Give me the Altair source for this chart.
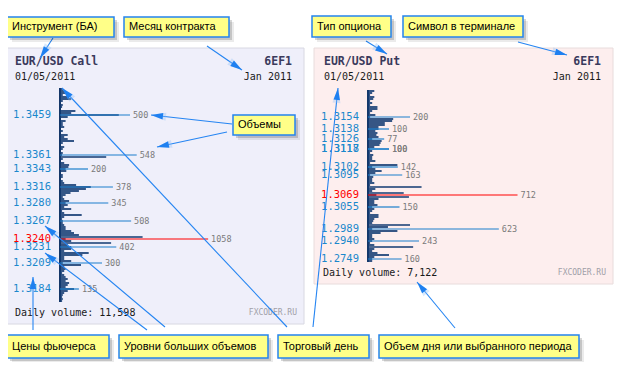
import math
import altair as alt
import pandas as pd

# ---------------- data ----------------
left_rows_vol = [20, 30, 40, 20, 60, 80, 20, 0, 20, 15,
                 0, 110, 80, 420, 55, 0, 40, 20, 20, 30,
                 0, 20, 0, 55, 30, 55, 100, 20, 0, 30,
                 20, 0, 20, 15, 330, 20, 0, 30, 65, 60,
                 40, 45, 0, 20, 20, 0, 20, 30, 115, 220,
                 185, 135, 75, 40, 20, 30, 65, 40, 55, 30,
                 80, 15, 30, 155, 30, 15, 20, 20, 30, 40,
                 40, 80, 100, 135, 590, 40, 80, 365, 55, 80,
                 80, 30, 205, 160, 30, 30, 80, 20, 150, 30,
                 40, 30, 15, 30, 40, 55, 40, 65, 55, 40,
                 100, 55, 30, 20, 15, 20, 15]
left_level_price = ["1.3459", "1.3361", "1.3343", "1.3316", "1.3280", "1.3267",
                    "1.3240", "1.3231", "1.3209", "1.3184"]
left_level_vol = [500, 548, 200, 378, 345, 508, 1058, 402, 300, 135]
left_level_row = [13, 33, 40, 49, 57, 66, 75, 79, 87, 100]
left_hot = "1.3240"

right_rows_vol = [30, 20, 10, 30, 25, 10, 20, 10, 45, 45,
                  20, 10, 35, 10, 120, 115, 80, 80, 50, 50,
                  35, 45, 40, 50, 20, 65, 60, 55, 30, 10,
                  20, 10, 25, 20, 20, 35, 10, 140, 20, 35,
                  65, 35, 10, 25, 20, 20, 30, 10, 255, 35,
                  20, 170, 40, 195, 50, 30, 30, 45, 20, 30,
                  20, 10, 50, 50, 30, 25, 20, 200, 95, 20,
                  140, 60, 20, 20, 30, 20, 10, 30, 215, 30,
                  20, 45, 100, 30, 20, 20]
right_level_price = ["1.3154", "1.3138", "1.3126", "1.3118", "1.3117", "1.3102",
                     "1.3095", "1.3069", "1.3055", "1.2989", "1.2940", "1.2749"]
right_level_vol = [200, 100, 77, 100, 100, 142, 163, 712, 150, 623, 243, 160]
right_level_row = [13, 19, 24, 29, 29, 38, 42, 52, 58, 69, 75, 84]
right_hot = "1.3069"

panel_titles = ["EUR/USD Call", "EUR/USD Put"]
panel_symbol = ["6EF1", "6EF1"]
panel_date = ["01/05/2011", "01/05/2011"]
panel_month = ["Jan 2011", "Jan 2011"]
panel_daily = ["Daily volume: 11,598", "Daily volume: 7,122"]

box_texts = ["Инструмент (БА)", "Месяц контракта", "Тип опциона", "Символ в терминале",
             "Объемы", "Цены фьючерса", "Уровни больших объемов", "Торговый день",
             "Объем дня или выбранного периода"]

# ---------------- layout (pixels) ----------------
W, H = 624, 354
X0, Y0 = 8, 8
PX = alt.Scale(domain=[X0, X0 + W], nice=False, zero=False)
PY = alt.Scale(domain=[Y0 + H, Y0], nice=False, zero=False)
MONO = "DejaVu Sans Mono"
SANS = "Liberation Sans"


def hx(axis_px, k):
    return alt.Scale(domain=[(X0 - axis_px) / k, (X0 + W - axis_px) / k], nice=False, zero=False)


def hy(c0, pitch=2.0):
    return alt.Scale(domain=[(Y0 + H - c0) / pitch, (Y0 - c0) / pitch], nice=False, zero=False)


layers = []

# panel backgrounds
panels = pd.DataFrame({
    "x1": [6, 314], "x2": [304, 613], "y1": [48, 48], "y2": [324, 284],
    "fill": ["#efeffa", "#fdeeee"], "stroke": ["#d8d8e2", "#e8dcdc"],
})
layers.append(alt.Chart(panels).mark_rect(strokeWidth=1).encode(
    x=alt.X("x1:Q", scale=PX, axis=None), x2="x2:Q",
    y=alt.Y("y1:Q", scale=PY, axis=None), y2="y2:Q",
    fill=alt.Fill("fill:N", scale=None), stroke=alt.Stroke("stroke:N", scale=None)))

# panel header texts
txt = pd.DataFrame({
    "t": panel_titles + panel_symbol,
    "x": [15, 324, 292, 601], "y": [62, 62, 62, 62],
    "align": ["left", "left", "right", "right"],
})
for al in ["left", "right"]:
    layers.append(alt.Chart(txt[txt["align"] == al]).mark_text(
        align=al, baseline="middle", font=MONO, fontSize=11.5, fontWeight="bold",
        color="#3a3a5c").encode(
        x=alt.X("x:Q", scale=PX, axis=None), y=alt.Y("y:Q", scale=PY, axis=None), text="t:N"))

txt2 = pd.DataFrame({
    "t": panel_date + panel_month,
    "x": [15, 324, 292, 601], "y": [77, 77, 77, 77],
    "align": ["left", "left", "right", "right"],
})
for al in ["left", "right"]:
    layers.append(alt.Chart(txt2[txt2["align"] == al]).mark_text(
        align=al, baseline="middle", font=MONO, fontSize=10, color="#1a1a1a").encode(
        x=alt.X("x:Q", scale=PX, axis=None), y=alt.Y("y:Q", scale=PY, axis=None), text="t:N"))

daily = pd.DataFrame({"t": panel_daily, "x": [15, 323], "y": [313, 273]})
layers.append(alt.Chart(daily).mark_text(
    align="left", baseline="middle", font=MONO, fontSize=10, color="#1a1a1a").encode(
    x=alt.X("x:Q", scale=PX, axis=None), y=alt.Y("y:Q", scale=PY, axis=None), text="t:N"))
brand = pd.DataFrame({"t": ["FXCODER.RU", "FXCODER.RU"], "x": [297, 606], "y": [313, 273]})
layers.append(alt.Chart(brand).mark_text(
    align="right", baseline="middle", font=MONO, fontSize=8, color="#a0a0a8").encode(
    x=alt.X("x:Q", scale=PX, axis=None), y=alt.Y("y:Q", scale=PY, axis=None), text="t:N"))


def histogram(rows_vol, lv_price, lv_vol, lv_row, hot, axis_px, k, c0, label_right):
    XS = hx(axis_px, k)
    YS = hy(c0)
    out = []
    axis_df = pd.DataFrame({"base": [0], "top": [-0.5], "bottom": [len(rows_vol) - 0.5]})
    out.append(alt.Chart(axis_df).mark_rule(color="#143768", strokeWidth=2).encode(
        x=alt.X("base:Q", scale=XS, axis=None),
        y=alt.Y("top:Q", scale=YS, axis=None), y2="bottom:Q"))
    bars = pd.DataFrame({"row": list(range(len(rows_vol))), "vol": rows_vol})
    bars["base"] = 0
    bars = bars[bars["vol"] > 0]
    out.append(alt.Chart(bars).mark_rule(color="#123a72", strokeWidth=1.7).encode(
        x=alt.X("base:Q", scale=XS, axis=None), x2="vol:Q",
        y=alt.Y("row:Q", scale=YS, axis=None)))
    lv = pd.DataFrame({"row": lv_row, "vol": lv_vol, "price": lv_price})
    lv["base"] = 0
    lv["lab"] = [str(v) for v in lv_vol]
    lv["lc"] = ["#ff0000" if p == hot else "#1c7fcc" for p in lv_price]
    lv["pc"] = ["#ff0000" if p == hot else "#1a88cc" for p in lv_price]
    out.append(alt.Chart(lv).mark_rule(strokeWidth=1.2).encode(
        x=alt.X("base:Q", scale=XS, axis=None), x2="vol:Q",
        y=alt.Y("row:Q", scale=YS, axis=None),
        color=alt.Color("lc:N", scale=None)))
    out.append(alt.Chart(lv).mark_text(
        align="left", baseline="middle", dx=3, font=MONO, fontSize=8.5, color="#7a7a7a").encode(
        x=alt.X("vol:Q", scale=XS, axis=None),
        y=alt.Y("row:Q", scale=YS, axis=None), text="lab:N"))
    out.append(alt.Chart(lv).mark_text(
        align="right", baseline="middle", font=MONO, fontSize=10.5).encode(
        x=alt.value(label_right - X0),
        y=alt.Y("row:Q", scale=YS, axis=None), text="price:N",
        color=alt.Color("pc:N", scale=None)))
    return out


layers += histogram(left_rows_vol, left_level_price, left_level_vol, left_level_row,
                    left_hot, 60, 0.14, 89, 51)
layers += histogram(right_rows_vol, right_level_price, right_level_vol, right_level_row,
                    right_hot, 368, 0.21, 91, 359)

# annotation arrows
arrows = pd.DataFrame({
    "x1": [53, 207, 366, 518, 232, 227, 33, 165, 147, 287, 313, 455],
    "y1": [38, 46, 41, 42, 124, 132, 330, 327, 330, 327, 327, 328],
    "x2": [40, 242, 387, 567, 151, 157, 33, 45, 45, 62, 338, 417],
    "y2": [58, 70, 54, 55, 115, 147, 277, 226, 253, 88, 88, 282],
})
arrows["ang"] = [(math.degrees(math.atan2(r.x2 - r.x1, -(r.y2 - r.y1))) + 360) % 360
                 for r in arrows.itertuples()]
layers.append(alt.Chart(arrows).mark_rule(color="#2585f2", strokeWidth=1.1).encode(
    x=alt.X("x1:Q", scale=PX, axis=None), x2="x2:Q",
    y=alt.Y("y1:Q", scale=PY, axis=None), y2="y2:Q"))

HEAD = "M0,0L0.27,1L-0.27,1Z"
layers.append(alt.Chart(arrows).mark_point(
    filled=True, shape=HEAD, size=900, color="#8cc0fa", opacity=0.35, strokeWidth=0).encode(
    x=alt.X("x2:Q", scale=PX, axis=None), y=alt.Y("y2:Q", scale=PY, axis=None),
    angle=alt.Angle("ang:Q", scale=None)))
layers.append(alt.Chart(arrows).mark_point(
    filled=True, shape=HEAD, size=576, color="#1f80f0", opacity=1, strokeWidth=0).encode(
    x=alt.X("x2:Q", scale=PX, axis=None), y=alt.Y("y2:Q", scale=PY, axis=None),
    angle=alt.Angle("ang:Q", scale=None)))

# annotation boxes
boxes = pd.DataFrame({
    "t": box_texts,
    "x1": [7, 124, 312, 403, 233, 7, 119, 278, 379],
    "y1": [17, 17, 16, 16, 115, 335, 335, 335, 335],
    "x2": [114, 229, 391, 523, 295, 109, 268, 369, 579],
    "y2": [37, 37, 37, 37, 135, 358, 358, 358, 358],
})
for off, op in [(5, 0.08), (3, 0.16)]:
    sh = boxes.copy()
    sh["x1"] += off
    sh["x2"] += off
    sh["y1"] += off
    sh["y2"] += off
    layers.append(alt.Chart(sh).mark_rect(color="#000000", opacity=op).encode(
        x=alt.X("x1:Q", scale=PX, axis=None), x2="x2:Q",
        y=alt.Y("y1:Q", scale=PY, axis=None), y2="y2:Q"))
layers.append(alt.Chart(boxes).mark_rect(fill="#ffff88", stroke="#2484ee", strokeWidth=1.5).encode(
    x=alt.X("x1:Q", scale=PX, axis=None), x2="x2:Q",
    y=alt.Y("y1:Q", scale=PY, axis=None), y2="y2:Q"))
boxes["tx"] = boxes["x1"] + 5
boxes["ty"] = (boxes["y1"] + boxes["y2"]) / 2
layers.append(alt.Chart(boxes).mark_text(
    align="left", baseline="middle", font=SANS, fontSize=11, color="#000000").encode(
    x=alt.X("tx:Q", scale=PX, axis=None), y=alt.Y("ty:Q", scale=PY, axis=None), text="t:N"))

chart = alt.layer(*layers).resolve_scale(
    x="independent", y="independent"
).properties(
    width=W, height=H, padding=0,
    autosize=alt.AutoSizeParams(type="none"), background="#ffffff"
).configure_view(strokeWidth=0)

chart.save("out.html", embed_options={"renderer": "svg", "actions": False})
